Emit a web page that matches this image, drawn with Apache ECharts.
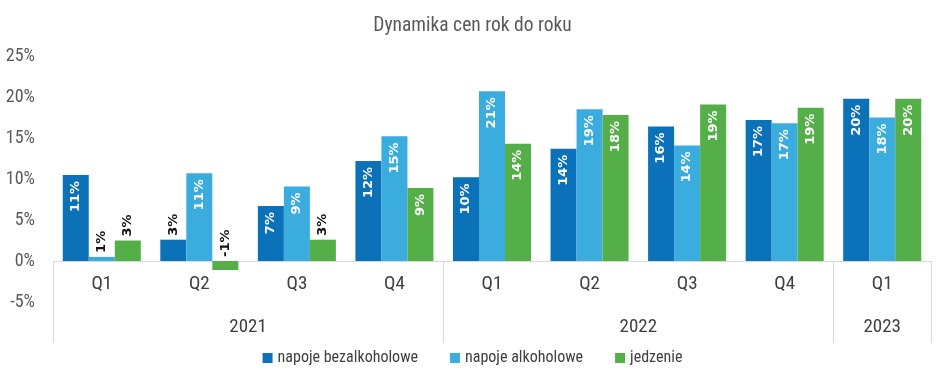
<!DOCTYPE html>
<html>
<head>
<meta charset="utf-8">
<script src="https://cdn.jsdelivr.net/npm/echarts@6/dist/echarts.min.js"></script>
<style>
html,body{margin:0;padding:0;background:#fff;}
#c{width:945px;height:386px;}
</style>
</head>
<body>
<div id="c"></div>
<script>
const titleText = 'Dynamika cen rok do roku';
const quarters = ['Q1','Q2','Q3','Q4','Q1','Q2','Q3','Q4','Q1'];
const years = ['2021','2022','2023'];
const yearSizes = [4,4,1];
const seriesNames = ['napoje bezalkoholowe','napoje alkoholowe','jedzenie'];
const bezalk = [10.5, 2.6, 6.7, 12.2, 10.2, 13.7, 16.4, 17.2, 19.8];
const alk    = [0.5, 10.7, 9.1, 15.2, 20.7, 18.5, 14.1, 16.8, 17.5];
const jedz   = [2.5, -1.1, 2.6, 8.9, 14.3, 17.8, 19.1, 18.7, 19.8];
const yTicks = [-5, 0, 5, 10, 15, 20, 25];
const colors = ['#0b71b8', '#3aacde', '#55af49'];

const FONT = '"Roboto Condensed","Liberation Sans Narrow",sans-serif';

const H = 386, gridTop = 56, gridBottom = 84;
const yMin = yTicks[0], yMax = yTicks[yTicks.length - 1];
// move category axes up from grid bottom to the zero line
const zeroOffset = -(0 - yMin) / (yMax - yMin) * (H - gridTop - gridBottom);

// year group boundaries and centres
const bounds = [0];
yearSizes.forEach(s => bounds.push(bounds[bounds.length-1] + s));
const centres = yearSizes.map((s, i) => bounds[i] + s / 2);

function buildData(vals) {
  return vals.map(v => {
    const inside = v >= 4;
    return {
      value: v,
      label: inside ? {
        position: 'insideTop', rotate: 90, align: 'right', verticalAlign: 'middle',
        distance: 6, color: '#ffffff'
      } : {
        position: 'top', rotate: 90, align: 'left', verticalAlign: 'middle',
        distance: 4, color: '#111111'
      }
    };
  });
}

const chart = echarts.init(document.getElementById('c'), null, {renderer: 'canvas'});
chart.setOption({
  animation: false,
  backgroundColor: '#ffffff',
  title: {
    text: titleText, left: 'center', top: 11,
    textStyle: {fontFamily: FONT, fontSize: 19.5, fontWeight: 'normal', color: '#595959'}
  },
  legend: {
    data: seriesNames, bottom: 15, left: 'center', itemWidth: 10, itemHeight: 10, itemGap: 32,
    icon: 'rect',
    textStyle: {fontFamily: FONT, fontSize: 16, color: '#404040'}
  },
  grid: {left: 53, right: 14, top: gridTop, bottom: gridBottom},
  xAxis: [{
    type: 'category', data: quarters, position: 'bottom', offset: zeroOffset,
    axisLine: {onZero: false, lineStyle: {color: '#d9d9d9', width: 1}},
    axisTick: {show: false},
    axisLabel: {fontFamily: FONT, fontSize: 19, color: '#404040', margin: 14}
  }, {
    type: 'value', min: 0, max: bounds[bounds.length-1], position: 'bottom', offset: zeroOffset,
    axisLine: {show: false, onZero: false},
    splitLine: {show: false},
    axisTick: {show: true, customValues: bounds, length: 82, lineStyle: {color: '#d9d9d9', width: 1}},
    axisLabel: {
      customValues: centres, fontFamily: FONT, fontSize: 19, color: '#404040', margin: 57,
      formatter: v => { const i = centres.indexOf(v); return i >= 0 ? years[i] : ''; }
    }
  }],
  yAxis: {
    type: 'value', min: yMin, max: yMax, interval: 5,
    axisLine: {show: false}, axisTick: {show: false}, splitLine: {show: false},
    axisLabel: {formatter: '{value}%', fontFamily: FONT, fontSize: 18, color: '#595959', margin: 18}
  },
  series: [bezalk, alk, jedz].map((vals, i) => ({
    name: seriesNames[i], type: 'bar', xAxisIndex: 0,
    data: buildData(vals),
    itemStyle: {color: colors[i]},
    barGap: '0%', barCategoryGap: '20%',
    label: {
      show: true, fontFamily: '"DejaVu Sans","Liberation Sans",sans-serif', fontSize: 13, fontWeight: 'bold',
      formatter: p => Math.round(p.value) + '%'
    }
  }))
});
</script>
</body>
</html>
